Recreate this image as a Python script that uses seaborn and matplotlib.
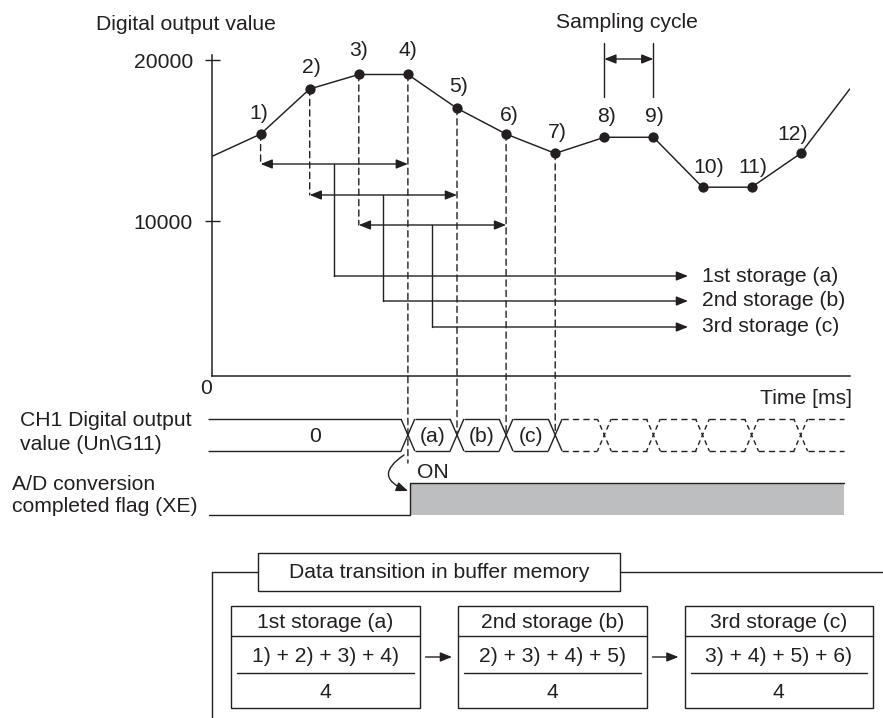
import numpy as np
import pandas as pd
import matplotlib
matplotlib.use("Agg")
import matplotlib.pyplot as plt
import seaborn as sns
from matplotlib.transforms import blended_transform_factory
from matplotlib.patches import Rectangle, FancyArrowPatch, ConnectionPatch

# ---------------- data ----------------
sample_labels = ["1)", "2)", "3)", "4)", "5)", "6)", "7)", "8)", "9)", "10)", "11)", "12)"]
sample_time = [1, 2, 3, 4, 5, 6, 7, 8, 9, 10, 11, 12]
sample_value = [15400, 18200, 19100, 19100, 17000, 15400, 14200, 15200, 15200, 12100, 12100, 14200]
curve_time = [0, 1, 2, 3, 4, 5, 6, 7, 8, 9, 10, 11, 12, 13]
curve_value = [14000, 15400, 18200, 19100, 19100, 17000, 15400, 14200, 15200, 15200,
               12100, 12100, 14200, 18200]
y_ticks = [10000, 20000]
y_tick_labels = ["10000", "20000"]
storage_windows = [(1, 4), (2, 5), (3, 6)]
storage_names = ["1st storage (a)", "2nd storage (b)", "3rd storage (c)"]
storage_formulas = ["1) + 2) + 3) + 4)", "2) + 3) + 4) + 5)", "3) + 4) + 5) + 6)"]
storage_divisor = "4"
bus_labels = ["0", "(a)", "(b)", "(c)"]
bus_solid_cross = [4, 5, 6, 7]
bus_dashed_cross = [8, 9, 10, 11, 12]

# ---------------- style ----------------
ink = "#231f20"
gray = "#bcbec0"
fs = 15.2
dash = (0, (4.5, 3))
xdash = (1.2, (3.5, 2.5))

sns.set_theme(style="white")
plt.rcParams["font.family"] = ["Liberation Sans", "DejaVu Sans"]
plt.rcParams["text.color"] = ink

W, H = 883, 718
fig = plt.figure(figsize=(W / 100, H / 100), dpi=100)
fig.patch.set_facecolor("white")

# main waveform axes
x_left, x_right, y_top, y_bot = 211.5, 849.8, 55, 376
ax = fig.add_axes([x_left / W, 1 - y_bot / H, (x_right - x_left) / W, (y_bot - y_top) / H])
ax.set_facecolor("none")
ax.set_xlim(0, 13)
ax.set_ylim(372.7, 20310.6)

# overlay in pixel coordinates
ov = fig.add_axes([0, 0, 1, 1])
ov.set_xlim(0, W)
ov.set_ylim(H, 0)
ov.axis("off")
ov.set_facecolor("none")
bt = blended_transform_factory(ax.transData, ov.transData)  # x = time, y = pixel

sns.lineplot(x=curve_time, y=curve_value, ax=ax, color=ink, linewidth=1.05)
sns.scatterplot(x=sample_time, y=sample_value, ax=ax, color=ink, s=55, edgecolor=ink,
                linewidth=0, zorder=5)

for s in ["top", "right"]:
    ax.spines[s].set_visible(False)
for s in ["left", "bottom"]:
    ax.spines[s].set_color(ink)
    ax.spines[s].set_linewidth(1.1)
ax.set_xticks([])
ax.set_yticks(y_ticks)
ax.set_yticklabels(y_tick_labels)
ax.tick_params(axis="y", direction="inout", length=10.8, width=1.0, color=ink,
               pad=7.9, labelsize=fs, labelcolor=ink, left=True)
ax.set_xlabel("")
ax.set_ylabel("")

# sample labels
lab_dx = [-2, 2, 0, 0, 2, 3, 2, 2, 1, 6, 1, -8]
lab_dy = [21, 21, 24, 24, 22, 19, 21, 21, 21, 20, 20, 19]
for lab, t, v, dx, dy in zip(sample_labels, sample_time, sample_value, lab_dx, lab_dy):
    ax.annotate(lab, (t, v), xytext=(dx * 0.72, dy * 0.72), textcoords="offset points",
                ha="center", va="center", fontsize=fs, color=ink)

# axis texts
ov.text(96, 25, "Digital output value", ha="left", va="center", fontsize=fs)
ov.text(205.7, 388, "0", ha="center", va="center", fontsize=fs)
ov.text(852, 398, "Time [ms]", ha="right", va="center", fontsize=fs)

# dashed drop lines
drop_to = [164, 195, 225, 463, 433, 433, 433]
for t, v, py in zip(sample_time[:7], sample_value[:7], drop_to):
    cp = ConnectionPatch(xyA=(t, v), coordsA=ax.transData, xyB=(t, py), coordsB=bt,
                         color=ink, lw=1.0, linestyle=dash, zorder=3)
    fig.add_artist(cp)

# averaging windows
arrow_y = [164, 195, 225]
store_y = [276, 301, 327]
head2 = "<|-|>,head_length=0.5,head_width=0.2"
head1 = "-|>,head_length=0.5,head_width=0.2"
for (a, b), ya, ys, name in zip(storage_windows, arrow_y, store_y, storage_names):
    ov.annotate("", xy=(b, ya), xycoords=bt, xytext=(a, ya), textcoords=bt,
                arrowprops=dict(arrowstyle=head2, color=ink, lw=1.0, shrinkA=0, shrinkB=0,
                                mutation_scale=14))
    tc = (a + b) / 2
    ov.plot([tc, tc], [ya, ys], transform=bt, color=ink, lw=1.0)
    ov.annotate("", xy=(688, ys), xycoords=ov.transData, xytext=(tc, ys), textcoords=bt,
                arrowprops=dict(arrowstyle=head1, color=ink, lw=1.0, shrinkA=0, shrinkB=0,
                                mutation_scale=14))
    ov.text(702, ys, name, ha="left", va="center", fontsize=fs)

# sampling cycle
for t in [8, 9]:
    ov.plot([t, t], [43, 97], transform=bt, color=ink, lw=1.0)
ov.annotate("", xy=(9, 59), xycoords=bt, xytext=(8, 59), textcoords=bt,
            arrowprops=dict(arrowstyle=head2, color=ink, lw=1.0, shrinkA=0, shrinkB=0,
                            mutation_scale=14))
ov.text(8.46, 22, "Sampling cycle", transform=bt, ha="center", va="center", fontsize=fs)

# ---------------- bus timing row ----------------
ov.text(20, 420, "CH1 Digital output", ha="left", va="center", fontsize=fs)
ov.text(20, 444, "value (Un\\G11)", ha="left", va="center", fontsize=fs)
top, bot = 419, 451
h = 0.14
t_start = -0.07
t_end = 12.88


def seg(x0, x1, y0, y1, ls="-"):
    ov.plot([x0, x1], [y0, y1], transform=bt, color=ink, lw=1.0, linestyle=ls,
            solid_capstyle="butt")


seg(t_start, bus_solid_cross[0] - h, top, top)
seg(t_start, bus_solid_cross[0] - h, bot, bot)
for c in bus_solid_cross:
    seg(c - h, c + h, top, bot)
    seg(c - h, c + h, bot, top)
for c0, c1 in zip(bus_solid_cross[:-1], bus_solid_cross[1:]):
    seg(c0 + h, c1 - h, top, top)
    seg(c0 + h, c1 - h, bot, bot)
dcross = [bus_solid_cross[-1]] + bus_dashed_cross
for c0, c1 in zip(dcross[:-1], dcross[1:]):
    seg(c0 + h, c1 - h, top, top, dash)
    seg(c0 + h, c1 - h, bot, bot, dash)
for c in bus_dashed_cross:
    seg(c - h, c + h, top, bot, xdash)
    seg(c - h, c + h, bot, top, xdash)
seg(bus_dashed_cross[-1] + h, t_end, top, top, dash)
seg(bus_dashed_cross[-1] + h, t_end, bot, bot, dash)

ov.text(2.1, 436, bus_labels[0], transform=bt, ha="center", va="center", fontsize=fs)
for i, lab in enumerate(bus_labels[1:]):
    c = bus_solid_cross[i]
    ov.text(c + 0.5, 436, lab, transform=bt, ha="center", va="center", fontsize=fs)

# ---------------- flag row ----------------
ov.text(12, 485, "A/D conversion", ha="left", va="center", fontsize=fs)
ov.text(12, 507, "completed flag (XE)", ha="left", va="center", fontsize=fs)
t_on = 4.04
ov.add_patch(Rectangle((t_on, 483), t_end - t_on, 32, transform=bt, facecolor=gray,
                       edgecolor="none"))
ov.plot([-0.05, t_on, t_on, t_end], [515, 515, 483, 483], transform=bt, color=ink, lw=1.0)
ov.text(433, 472, "ON", ha="center", va="center", fontsize=fs)
ov.add_patch(FancyArrowPatch((404, 455), (408, 491), connectionstyle="arc3,rad=0.95",
                             arrowstyle=head1, mutation_scale=14, color=ink, lw=1.0,
                             shrinkA=0, shrinkB=0))

# ---------------- buffer memory section ----------------
ov.plot([212, 212], [572, 720], color=ink, lw=1.0, clip_on=False)
ov.plot([212, 258], [572, 572], color=ink, lw=1.0)
ov.plot([620, 883], [572, 572], color=ink, lw=1.0)
ov.add_patch(Rectangle((258, 553), 362, 38, facecolor="white", edgecolor=ink, lw=1.0))
ov.text(439, 572, "Data transition in buffer memory", ha="center", va="center", fontsize=fs)

box_left = [231, 458, 684.5]
bw = 188.5
for i, (xl, name, form) in enumerate(zip(box_left, storage_names, storage_formulas)):
    ov.add_patch(Rectangle((xl, 606), bw, 101.5, facecolor="white", edgecolor=ink, lw=1.0))
    ov.plot([xl, xl + bw], [636, 636], color=ink, lw=1.0)
    ov.plot([xl + 6, xl + bw - 6], [673, 673], color=ink, lw=1.0)
    cx = xl + bw / 2
    ov.text(cx, 622, name, ha="center", va="center", fontsize=fs)
    ov.text(cx, 656, form, ha="center", va="center", fontsize=fs)
    ov.text(cx, 692, storage_divisor, ha="center", va="center", fontsize=fs)
    if i < len(box_left) - 1:
        ov.annotate("", xy=(box_left[i + 1] - 6, 657), xytext=(xl + bw + 6, 657),
                    arrowprops=dict(arrowstyle=head1, color=ink, lw=1.0, shrinkA=0,
                                    shrinkB=0, mutation_scale=14))

fig.savefig("out.png", dpi=100, facecolor="white")
